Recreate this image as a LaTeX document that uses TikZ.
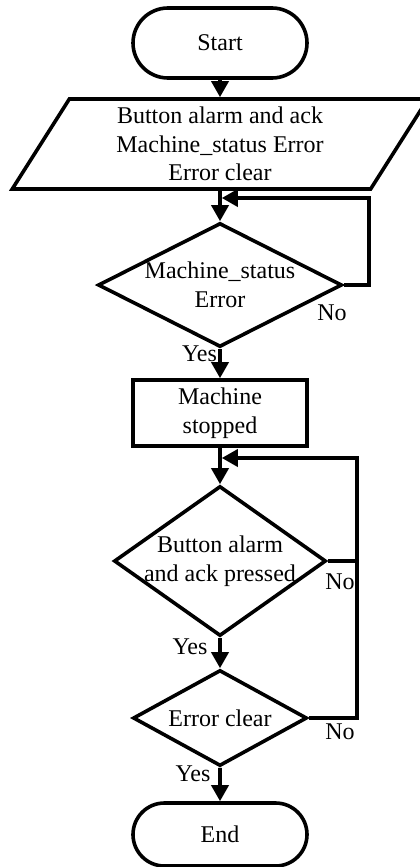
\documentclass[tikz,border=0pt]{standalone}
\usepackage{fontspec}
\setmainfont{Liberation Serif}
\usetikzlibrary{shapes.geometric,shapes.misc,arrows.meta}
\begin{document}
\begin{tikzpicture}[x=1pt,y=-1pt,
  font=\fontsize{24}{28.5}\selectfont,
  flow/.style={draw=black, line width=3.6pt, line join=miter},
  term/.style={flow, rounded rectangle, minimum width=174pt, inner sep=0pt},
  proc/.style={flow, rectangle, minimum width=174pt, minimum height=66pt, align=center, inner sep=0pt},
  iobox/.style={flow, trapezium, trapezium left angle=62, trapezium right angle=118,
    trapezium stretches=true, minimum width=416pt, minimum height=90pt, align=center, inner sep=0pt},
  decision/.style={flow, diamond, inner sep=0pt},
  dtext/.style={align=center, inner sep=0pt, font=\fontsize{24}{28.5}\selectfont},
  conn/.style={line width=3.6pt, line join=miter, -{Triangle[length=16pt,width=17pt]}},
  wire/.style={line width=3.6pt, line join=miter},
  lbl/.style={inner sep=0pt}
]
\useasboundingbox (0,0) rectangle (420,867);

% Flow elements
\node[term, minimum height=70pt] (start) at (220,43) {Start};
\node[iobox] (io) at (220,144) {Button alarm and ack\\Machine\_status Error\\Error clear};
\node[decision, minimum width=244pt, minimum height=124pt,
      label={[dtext]center:Machine\_status\\Error}] (d1) at (220,285) {};
\node[proc] (stop) at (220,413) {Machine\\stopped};
\node[decision, minimum width=212pt, minimum height=150pt,
      label={[dtext]center:Button alarm\\and ack pressed}] (d2) at (220,561) {};
\node[decision, minimum width=174pt, minimum height=96pt,
      label={[dtext]center:Error clear}] (d3) at (220,718) {};
\node[term, minimum height=63pt] (end) at (220,834.5) {End};

% Junctions where the loops rejoin the main line
\coordinate (j1) at (221.8,198);
\coordinate (j2) at (221.8,458);
\coordinate (bus) at (357,458);

% Main line
\draw[conn] (start) -- (io);
\draw[conn] (io) -- (d1);
\draw[conn] (d1) -- (stop);
\draw[conn] (stop) -- (d2);
\draw[conn] (d2) -- (d3);
\draw[conn] (d3) -- (end);

% Loop back while the machine has no error
\draw[conn] (d1.east) -- ++(25,0) |- (j1);

% Loop back while alarm not acknowledged or error not cleared
\draw[wire] (d2.east) -- (d2.east -| bus);
\draw[conn] (d3.east) -| (bus) -- (j2);

% Branch labels
\node[lbl] (no1) at (332,313) {No};
\node[lbl] (yes1) at (199.5,354) {Yes};
\node[lbl] (no2) at (340,582) {No};
\node[lbl] (yes2) at (190,647) {Yes};
\node[lbl] (no3) at (340,732) {No};
\node[lbl] (yes3) at (193,774) {Yes};
\end{tikzpicture}
\end{document}
